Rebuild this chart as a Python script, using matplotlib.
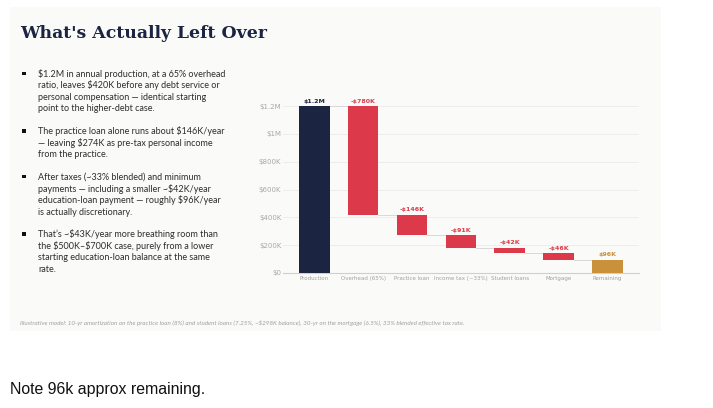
import matplotlib
matplotlib.use("Agg")
import matplotlib.pyplot as plt
from matplotlib.patches import Rectangle

plt.rcParams['text.parse_math'] = False

# ---------------- data ----------------
categories = ["Production", "Overhead (65%)", "Practice loan", "Income tax (~33%)",
              "Student loans", "Mortgage", "Remaining"]
steps = [1200000, -780000, -146000, -91000, -42000, -46000]
remaining = 96000
value_labels = ["$1.2M", "-$780K", "-$146K", "-$91K", "-$42K", "-$46K", "$96K"]
y_ticks = [0, 200000, 400000, 600000, 800000, 1000000, 1200000]
y_tick_labels = ["$0", "$200K", "$400K", "$600K", "$800K", "$1M", "$1.2M"]

title = "What's Actually Left Over"
bullets = [
    ["$1.2M in annual production, at a 65% overhead",
     "ratio, leaves $420K before any debt service or",
     "personal compensation \u2014 identical starting",
     "point to the higher-debt case."],
    ["The practice loan alone runs about $146K/year",
     "\u2014 leaving $274K as pre-tax personal income",
     "from the practice."],
    ["After taxes (~33% blended) and minimum",
     "payments \u2014 including a smaller ~$42K/year",
     "education-loan payment \u2014 roughly $96K/year",
     "is actually discretionary."],
    ["That\u2019s ~$43K/year more breathing room than",
     "the $500K\u2013$700K case, purely from a lower",
     "starting education-loan balance at the same",
     "rate."],
]
footnote = ("Illustrative model: 10-yr amortization on the practice loan (8%) and student loans "
            "(7.25%, ~$298K balance), 30-yr on the mortgage (6.5%), 33% blended effective tax rate.")
note = "Note 96k approx remaining."

# ---------------- style ----------------
NAVY = "#1b2440"
RED = "#dc3a4a"
GOLD = "#c8913a"
PANEL = "#fafaf8"
TEXT = "#2e2e2e"

W, H = 713, 408
fig = plt.figure(figsize=(W / 100, H / 100), dpi=100)
fig.patch.set_facecolor("white")


def fx(x):
    return x / W


def fy(y):
    return 1 - y / H


renderer = fig.canvas.get_renderer()


def fit(t, target_px):
    bb = t.get_window_extent(renderer)
    t.set_fontsize(t.get_fontsize() * target_px / bb.width)
    return t.get_fontsize()


# panel
fig.add_artist(Rectangle((fx(10), fy(331)), (661 - 10) / W, (331 - 7) / H,
                         transform=fig.transFigure, facecolor=PANEL,
                         edgecolor="none", zorder=0))

# title
tt = fig.text(fx(20), fy(37.5), title, fontsize=14, fontweight="bold",
              family="DejaVu Serif", color=NAVY, ha="left", va="baseline")
fit(tt, 246)

# bullets
probe = fig.text(0, 0, bullets[0][0], fontsize=7, family="Lato")
bfs = fit(probe, 187)
probe.remove()
line_idx = 0
for p, para in enumerate(bullets):
    for j, line in enumerate(para):
        base = 76.7 + 11.6 * line_idx + 11.0 * p
        fig.text(fx(38.5), fy(base), line, fontsize=bfs, family="Lato",
                 color=TEXT, ha="left", va="baseline")
        if j == 0:
            fig.add_artist(Rectangle((fx(22.3), fy(base - 1.5)), 3.4 / W, 3.4 / H,
                                     transform=fig.transFigure, facecolor="#111111",
                                     edgecolor="none"))
        line_idx += 1

# footnote
ft = fig.text(fx(20), fy(325.5), footnote, fontsize=4.5, family="Lato",
              style="italic", color="#a0a0a0", ha="left", va="baseline")
fit(ft, 444)

# note below the panel
nt = fig.text(fx(10), fy(394), note, fontsize=11, family="Liberation Sans",
              color="#111111", ha="left", va="baseline")
fit(nt, 195)

# ---------------- waterfall ----------------
ax = fig.add_axes([fx(283), fy(273), (639 - 283) / W, (273 - 106) / H])
ax.set_facecolor("none")

n = len(categories)
xs = list(range(n))
bottoms, heights, colors, levels = [], [], [], []
running = 0
for i, s in enumerate(steps):
    if i == 0:
        bottoms.append(0)
        heights.append(s)
        colors.append(NAVY)
        running = s
    else:
        running = running + s
        bottoms.append(running)
        heights.append(-s)
        colors.append(RED)
    levels.append(running)
bottoms.append(0)
heights.append(remaining)
colors.append(GOLD)
levels.append(remaining)

bw = 0.626
ax.bar(xs, heights, bottom=bottoms, width=bw, color=colors, zorder=3)

for i in range(n - 1):
    ax.plot([i + bw / 2, i + 1 - bw / 2], [levels[i], levels[i]],
            color="#d8d8d8", lw=0.7, zorder=2)

label_colors = [NAVY] + [RED] * (len(steps) - 1) + [GOLD]
for i in range(n):
    top = bottoms[i] + heights[i]
    ax.annotate(value_labels[i], (xs[i], top), xytext=(0, 3.4),
                textcoords="offset points", ha="center", va="center",
                fontsize=4.5, fontweight="bold", color=label_colors[i],
                annotation_clip=False)

ax.set_xlim(-0.64, n - 1 + 0.645)
ax.set_ylim(0, 1200000)
ax.set_yticks(y_ticks)
ax.set_yticklabels(y_tick_labels)
ax.set_xticks(xs)
ax.set_xticklabels(categories)
ax.tick_params(axis="y", length=0, pad=1.2, labelsize=5.0, labelcolor="#a8a8a8")
ax.tick_params(axis="x", length=0, pad=2.2, labelsize=4.0, labelcolor="#a0a0a0")
ax.grid(axis="y", color="#ebebea", lw=0.6, zorder=0)
ax.set_axisbelow(True)
for side in ["top", "right", "left"]:
    ax.spines[side].set_visible(False)
ax.spines["bottom"].set_color("#cfcfcf")
ax.spines["bottom"].set_linewidth(0.8)

fig.savefig("out.png", dpi=100, facecolor="white")
